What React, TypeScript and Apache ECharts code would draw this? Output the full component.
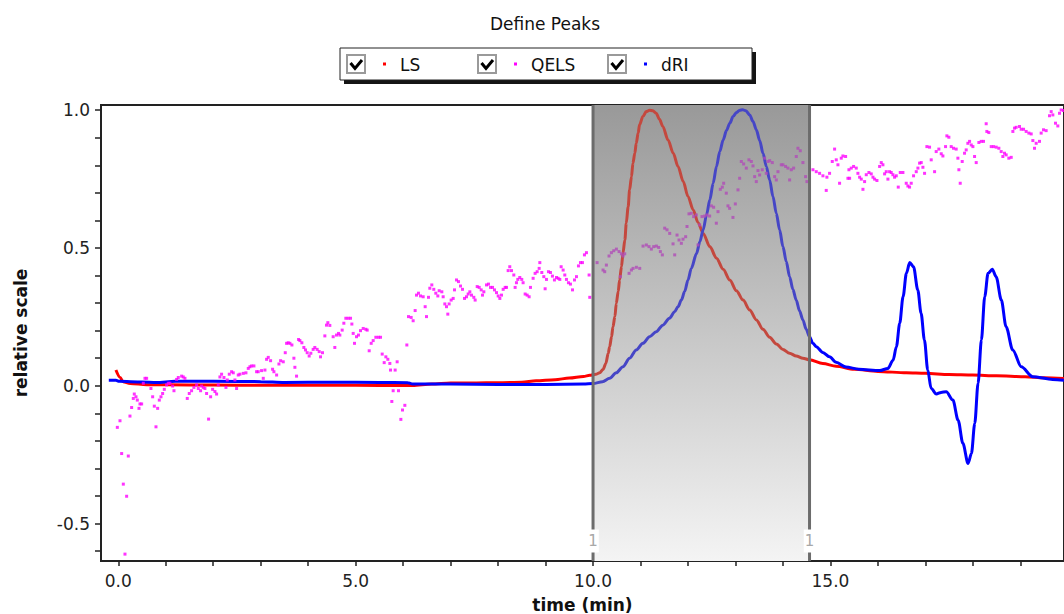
import React, { useEffect, useRef } from "react";
import * as echarts from "echarts";

// ---- data ---------------------------------------------------------------
const X_MIN = -0.364;
const X_MAX = 19.92;
const Y_MIN = -0.636;
const Y_MAX = 1.019;

const xTickValues = [0, 1, 2, 3, 4, 5, 6, 7, 8, 9, 10, 11, 12, 13, 14, 15, 16, 17, 18, 19];
const xLabelValues = [0, 5, 10, 15];
const yTickValues = [-0.6, -0.5, -0.4, -0.3, -0.2, -0.1, 0, 0.1, 0.2, 0.3, 0.4, 0.5, 0.6, 0.7, 0.8, 0.9, 1.0];
const yLabelValues = [-0.5, 0, 0.5, 1.0];

// peak limits (start, end) in minutes, and peak number
const PEAK_START = 10.0;
const PEAK_END = 14.56;
const peakRanges = [[PEAK_START, PEAK_END, 1]];

const lsData = [
  [-0.05, 0.057], [0.04, 0.03], [0.1, 0.015], [0.25, 0.008], [0.6, 0.004], [1.5, 0.003],
  [2.5, 0.002], [3.5, 0.002], [4.5, 0.002], [5.5, 0.001], [6.2, 0.001], [6.6, 0.006],
  [7.0, 0.01], [7.5, 0.01], [8.0, 0.011], [8.5, 0.013], [8.8, 0.018], [9.2, 0.022],
  [9.5, 0.028], [9.8, 0.034], [9.93, 0.038], [10.06, 0.042], [10.14, 0.047], [10.21, 0.059],
  [10.27, 0.081], [10.32, 0.118], [10.35, 0.142], [10.39, 0.178], [10.42, 0.214], [10.46, 0.251],
  [10.49, 0.299], [10.53, 0.342], [10.56, 0.384], [10.6, 0.433], [10.63, 0.481], [10.67, 0.529],
  [10.7, 0.59], [10.74, 0.65], [10.77, 0.711], [10.81, 0.759], [10.84, 0.808], [10.88, 0.844],
  [10.91, 0.88], [10.95, 0.917], [10.98, 0.947], [11.05, 0.977], [11.12, 0.995], [11.19, 1.0],
  [11.26, 0.998], [11.33, 0.989], [11.4, 0.967], [11.47, 0.941], [11.58, 0.892], [11.69, 0.844],
  [11.79, 0.796], [11.9, 0.741], [12.0, 0.687], [12.11, 0.638], [12.21, 0.593], [12.32, 0.553],
  [12.46, 0.505], [12.6, 0.463], [12.74, 0.423], [12.88, 0.384], [13.02, 0.345], [13.16, 0.311],
  [13.3, 0.275], [13.44, 0.239], [13.58, 0.205], [13.72, 0.176], [13.86, 0.152], [14.0, 0.132],
  [14.14, 0.118], [14.28, 0.108], [14.42, 0.1], [14.56, 0.094], [14.84, 0.081], [15.12, 0.071],
  [15.5, 0.06], [16.0, 0.052], [16.6, 0.047], [17.0, 0.045], [17.5, 0.041], [18.0, 0.039],
  [18.5, 0.036], [19.1, 0.033], [19.5, 0.029], [19.92, 0.026],
];

const driData = [
  [-0.2, 0.02], [-0.05, 0.02], [0.02, 0.016], [0.5, 0.014], [0.8, 0.012], [1.2, 0.016],
  [2.0, 0.016], [3.0, 0.015], [3.5, 0.012], [4.5, 0.013], [5.5, 0.012], [6.1, 0.011],
  [6.2, 0.006], [7.0, 0.006], [8.0, 0.005], [9.0, 0.005], [9.8, 0.006], [10.0, 0.008],
  [10.2, 0.015], [10.35, 0.027], [10.49, 0.047], [10.63, 0.069], [10.77, 0.1], [10.91, 0.13],
  [11.05, 0.154], [11.19, 0.178], [11.33, 0.196], [11.47, 0.22], [11.61, 0.245], [11.72, 0.269],
  [11.79, 0.287], [11.86, 0.311], [11.93, 0.342], [12.0, 0.384], [12.07, 0.426], [12.18, 0.48],
  [12.25, 0.523], [12.32, 0.566], [12.39, 0.62], [12.46, 0.675], [12.53, 0.735], [12.6, 0.796],
  [12.67, 0.85], [12.74, 0.892], [12.81, 0.926], [12.88, 0.953], [12.95, 0.977], [13.02, 0.992],
  [13.09, 1.0], [13.15, 1.002], [13.22, 0.998], [13.3, 0.983], [13.37, 0.959], [13.44, 0.929],
  [13.51, 0.89], [13.58, 0.844], [13.65, 0.796], [13.72, 0.747], [13.79, 0.687], [13.86, 0.626],
  [13.93, 0.566], [14.0, 0.505], [14.07, 0.451], [14.14, 0.396], [14.21, 0.35], [14.28, 0.311],
  [14.35, 0.272], [14.42, 0.239], [14.49, 0.205], [14.56, 0.178], [14.63, 0.154], [14.7, 0.142],
  [14.84, 0.121], [14.98, 0.105], [15.12, 0.085], [15.33, 0.068], [15.6, 0.06], [16.04, 0.055],
  [16.21, 0.063], [16.32, 0.093], [16.39, 0.142], [16.46, 0.227], [16.53, 0.323], [16.6, 0.408],
  [16.67, 0.447], [16.75, 0.432], [16.84, 0.348], [16.91, 0.263], [16.98, 0.166], [17.05, 0.057],
  [17.12, -0.009], [17.23, -0.03], [17.33, -0.024], [17.44, -0.022], [17.58, -0.052], [17.69, -0.125],
  [17.79, -0.209], [17.9, -0.282], [17.97, -0.246], [18.04, -0.137], [18.11, 0.009], [18.18, 0.166],
  [18.25, 0.323], [18.32, 0.408], [18.41, 0.423], [18.49, 0.396], [18.6, 0.311], [18.7, 0.214],
  [18.84, 0.13], [19.02, 0.069], [19.26, 0.033], [19.68, 0.023], [19.92, 0.02],
];

const qelsData = [
  [-0.02, -0.151], [0.036, -0.127], [0.071, -0.246], [0.106, -0.357], [0.141, -0.611], [0.176, -0.401],
  [0.211, -0.255], [0.246, -0.11], [0.281, -0.079], [0.316, -0.046], [0.337, -0.03], [0.373, -0.04],
  [0.401, -0.052], [0.436, -0.082], [0.457, -0.066], [0.492, -0.066], [0.527, 0.009], [0.562, 0.027],
  [0.597, 0.027], [0.688, -0.01], [0.724, -0.04], [0.759, -0.074], [0.794, -0.149], [0.829, -0.082],
  [0.864, -0.052], [0.899, -0.04], [0.934, -0.028], [0.969, -0.013], [1.018, 0.003], [1.053, 0.009],
  [1.088, 0.009], [1.145, -0.001], [1.173, -0.018], [1.229, 0.023], [1.264, 0.03], [1.334, 0.035],
  [1.369, 0.032], [1.404, 0.027], [1.453, -0.046], [1.495, -0.028], [1.544, -0.018], [1.593, -0.006],
  [1.65, 0.003], [1.685, -0.01], [1.734, -0.018], [1.755, -0.001], [1.79, -0.006], [1.825, -0.01],
  [1.86, -0.028], [1.902, -0.121], [1.945, -0.04], [1.987, -0.013], [2.036, -0.021], [2.071, -0.03],
  [2.106, 0.003], [2.141, 0.032], [2.176, 0.042], [2.226, 0.03], [2.268, -0.006], [2.296, 0.021],
  [2.338, 0.042], [2.387, 0.051], [2.422, 0.047], [2.457, 0.021], [2.492, -0.01], [2.527, 0.039],
  [2.562, 0.042], [2.633, 0.045], [2.689, 0.047], [2.738, 0.063], [2.773, 0.069], [2.808, 0.072],
  [2.857, 0.072], [2.913, 0.051], [2.948, 0.051], [3.018, 0.055], [3.054, 0.027], [3.089, 0.057],
  [3.124, 0.096], [3.159, 0.103], [3.208, 0.091], [3.25, 0.06], [3.278, 0.051], [3.335, 0.039],
  [3.384, 0.079], [3.419, 0.091], [3.475, 0.087], [3.517, 0.12], [3.545, 0.154], [3.58, 0.156],
  [3.615, 0.154], [3.657, 0.148], [3.699, 0.1], [3.72, 0.067], [3.755, 0.035], [3.797, 0.168],
  [3.825, 0.164], [3.867, 0.156], [3.909, 0.139], [3.944, 0.13], [3.979, 0.12], [4.021, 0.108],
  [4.056, 0.118], [4.105, 0.132], [4.14, 0.139], [4.189, 0.132], [4.232, 0.124], [4.26, 0.105],
  [4.302, 0.12], [4.351, 0.181], [4.386, 0.22], [4.414, 0.229], [4.456, 0.219], [4.526, 0.178],
  [4.561, 0.139], [4.596, 0.184], [4.639, 0.19], [4.667, 0.184], [4.716, 0.202], [4.751, 0.227],
  [4.793, 0.245], [4.843, 0.245], [4.892, 0.245], [4.92, 0.224], [4.948, 0.19], [4.976, 0.154],
  [5.018, 0.178], [5.06, 0.184], [5.102, 0.2], [5.159, 0.208], [5.215, 0.205], [5.243, 0.202],
  [5.285, 0.127], [5.327, 0.154], [5.369, 0.164], [5.425, 0.176], [5.481, 0.176], [5.524, 0.176],
  [5.559, 0.115], [5.601, 0.084], [5.636, 0.105], [5.678, 0.096], [5.72, 0.081], [5.734, 0.057],
  [5.762, -0.057], [5.79, -0.018], [5.832, 0.057], [5.874, 0.087], [5.902, -0.018], [5.952, -0.122],
  [5.987, -0.088], [6.036, -0.071], [6.078, 0.148], [6.113, 0.251], [6.169, 0.248], [6.211, 0.236],
  [6.253, 0.273], [6.281, 0.329], [6.323, 0.336], [6.366, 0.326], [6.422, 0.323], [6.464, 0.287],
  [6.492, 0.251], [6.534, 0.321], [6.562, 0.354], [6.604, 0.366], [6.646, 0.35], [6.688, 0.336],
  [6.731, 0.326], [6.759, 0.345], [6.815, 0.341], [6.843, 0.323], [6.878, 0.297], [6.913, 0.287],
  [6.941, 0.26], [6.969, 0.297], [7.011, 0.311], [7.054, 0.317], [7.082, 0.348], [7.124, 0.384],
  [7.166, 0.378], [7.208, 0.362], [7.25, 0.35], [7.293, 0.317], [7.335, 0.323], [7.37, 0.333],
  [7.405, 0.341], [7.44, 0.329], [7.489, 0.321], [7.517, 0.311], [7.56, 0.36], [7.602, 0.357],
  [7.644, 0.348], [7.672, 0.329], [7.7, 0.341], [7.756, 0.366], [7.798, 0.369], [7.84, 0.357],
  [7.883, 0.357], [7.925, 0.348], [7.967, 0.338], [8.002, 0.326], [8.037, 0.317], [8.072, 0.329],
  [8.107, 0.35], [8.149, 0.357], [8.177, 0.357], [8.212, 0.418], [8.246, 0.432], [8.282, 0.418],
  [8.331, 0.402], [8.359, 0.357], [8.387, 0.374], [8.415, 0.386], [8.457, 0.393], [8.499, 0.386],
  [8.527, 0.374], [8.57, 0.333], [8.612, 0.329], [8.654, 0.323], [8.682, 0.357], [8.738, 0.39],
  [8.78, 0.408], [8.823, 0.414], [8.865, 0.426], [8.879, 0.447], [8.921, 0.411], [8.963, 0.396],
  [8.991, 0.352], [9.019, 0.386], [9.061, 0.414], [9.103, 0.411], [9.145, 0.398], [9.187, 0.384],
  [9.23, 0.393], [9.265, 0.39], [9.3, 0.386], [9.328, 0.432], [9.37, 0.42], [9.405, 0.402],
  [9.44, 0.386], [9.482, 0.374], [9.524, 0.369], [9.567, 0.348], [9.609, 0.384], [9.651, 0.396],
  [9.693, 0.435], [9.735, 0.447], [9.777, 0.447], [9.819, 0.475], [9.861, 0.483], [9.917, 0.402],
  [9.931, 0.321], [10.085, 0.447], [10.211, 0.42], [10.246, 0.414], [10.281, 0.438], [10.337, 0.471],
  [10.386, 0.483], [10.436, 0.49], [10.492, 0.496], [10.548, 0.487], [10.576, 0.396], [10.597, 0.479],
  [10.632, 0.471], [10.667, 0.479], [10.759, 0.408], [10.808, 0.42], [10.843, 0.426], [10.913, 0.43],
  [10.983, 0.426], [11.053, 0.507], [11.123, 0.511], [11.179, 0.505], [11.228, 0.496], [11.278, 0.505],
  [11.334, 0.507], [11.383, 0.502], [11.418, 0.487], [11.46, 0.475], [11.509, 0.572], [11.558, 0.566],
  [11.615, 0.553], [11.685, 0.515], [11.72, 0.475], [11.769, 0.547], [11.811, 0.529], [11.86, 0.517],
  [11.895, 0.532], [11.951, 0.541], [11.979, 0.578], [12.021, 0.624], [12.07, 0.626], [12.119, 0.614],
  [12.175, 0.62], [12.211, 0.511], [12.246, 0.584], [12.295, 0.614], [12.351, 0.616], [12.4, 0.62],
  [12.456, 0.616], [12.491, 0.653], [12.54, 0.648], [12.597, 0.59], [12.632, 0.632], [12.681, 0.713],
  [12.723, 0.721], [12.751, 0.735], [12.807, 0.699], [12.842, 0.653], [12.877, 0.644], [12.947, 0.611],
  [12.997, 0.66], [13.053, 0.711], [13.088, 0.753], [13.123, 0.814], [13.172, 0.805], [13.228, 0.79],
  [13.284, 0.82], [13.334, 0.814], [13.369, 0.798], [13.404, 0.759], [13.439, 0.741], [13.474, 0.781],
  [13.509, 0.765], [13.565, 0.784], [13.614, 0.826], [13.649, 0.771], [13.685, 0.814], [13.72, 0.817],
  [13.776, 0.81], [13.825, 0.759], [13.86, 0.747], [13.895, 0.777], [13.965, 0.802], [14.0, 0.802],
  [14.056, 0.796], [14.105, 0.79], [14.141, 0.747], [14.176, 0.784], [14.225, 0.79], [14.281, 0.832],
  [14.316, 0.862], [14.365, 0.853], [14.421, 0.81], [14.477, 0.759], [14.505, 0.741], [14.632, 0.784],
  [14.702, 0.777], [14.772, 0.771], [14.842, 0.762], [14.912, 0.709], [14.926, 0.757], [14.982, 0.771],
  [15.039, 0.814], [15.088, 0.859], [15.123, 0.82], [15.158, 0.802], [15.193, 0.735], [15.228, 0.826],
  [15.263, 0.834], [15.32, 0.832], [15.369, 0.753], [15.39, 0.784], [15.404, 0.753], [15.439, 0.79],
  [15.488, 0.796], [15.544, 0.79], [15.579, 0.771], [15.615, 0.757], [15.65, 0.75], [15.685, 0.713],
  [15.72, 0.741], [15.755, 0.766], [15.811, 0.774], [15.86, 0.769], [15.896, 0.757], [15.931, 0.75],
  [15.98, 0.745], [16.036, 0.796], [16.071, 0.81], [16.106, 0.802], [16.141, 0.769], [16.176, 0.777],
  [16.211, 0.75], [16.246, 0.777], [16.281, 0.774], [16.316, 0.766], [16.351, 0.757], [16.387, 0.762],
  [16.429, 0.721], [16.471, 0.774], [16.527, 0.774], [16.597, 0.735], [16.632, 0.725], [16.667, 0.721],
  [16.702, 0.735], [16.751, 0.762], [16.808, 0.777], [16.843, 0.79], [16.878, 0.808], [16.913, 0.81],
  [16.948, 0.793], [16.983, 0.771], [17.032, 0.868], [17.088, 0.866], [17.123, 0.82], [17.194, 0.777],
  [17.228, 0.85], [17.284, 0.859], [17.334, 0.842], [17.369, 0.834], [17.425, 0.868], [17.453, 0.907],
  [17.495, 0.902], [17.544, 0.868], [17.593, 0.862], [17.649, 0.859], [17.685, 0.826], [17.706, 0.784],
  [17.734, 0.735], [17.776, 0.814], [17.825, 0.844], [17.86, 0.856], [17.895, 0.88], [17.931, 0.887],
  [17.966, 0.874], [18.001, 0.868], [18.036, 0.832], [18.071, 0.81], [18.127, 0.883], [18.176, 0.887],
  [18.225, 0.887], [18.281, 0.951], [18.295, 0.923], [18.337, 0.919], [18.387, 0.868], [18.436, 0.868],
  [18.492, 0.866], [18.548, 0.862], [18.597, 0.85], [18.632, 0.832], [18.667, 0.844], [18.702, 0.838],
  [18.758, 0.826], [18.808, 0.829], [18.843, 0.923], [18.878, 0.935], [18.913, 0.938], [18.983, 0.941],
  [19.018, 0.931], [19.068, 0.931], [19.123, 0.923], [19.18, 0.917], [19.229, 0.914], [19.264, 0.89],
  [19.299, 0.862], [19.334, 0.88], [19.404, 0.887], [19.439, 0.917], [19.488, 0.929], [19.544, 0.926],
  [19.615, 0.98], [19.65, 0.995], [19.685, 0.983], [19.741, 0.953], [19.79, 0.943], [19.825, 0.989],
  [19.86, 1.001], [19.91, 0.999],
];

const seriesNames = ["LS", "QELS", "dRI"];
const seriesColors = ["#ff0000", "#ff00ff", "#0000ff"];
// the same traces as they show inside the selected peak band
const bandColors = ["#c4483e", "#b04cb8", "#4646c6"];

const FONT = "DejaVu Sans";

// ---- legend panel with check boxes ----------------------------------------
function buildLegend() {
  const boxX = 340;
  const boxY = 48;
  const boxW = 412;
  const boxH = 32;
  const itemX = [347, 478, 608];
  const children: any[] = [
    { type: "rect", shape: { x: boxX + 4, y: boxY + 4, width: boxW, height: boxH }, style: { fill: "#151515" } },
    { type: "rect", shape: { x: boxX, y: boxY, width: boxW, height: boxH }, style: { fill: "#ffffff", stroke: "#222", lineWidth: 1 } },
  ];
  seriesNames.forEach((name, i) => {
    const cx = itemX[i];
    const cy = 55;
    children.push(
      { type: "rect", shape: { x: cx, y: cy, width: 18, height: 18 }, style: { fill: "#ffffff", stroke: "#9a9a9a", lineWidth: 2 } },
      { type: "polyline", shape: { points: [[cx + 3.5, cy + 8], [cx + 8, cy + 13.5], [cx + 15, cy + 5]] }, style: { stroke: "#000", lineWidth: 3, fill: null } },
      { type: "rect", shape: { x: cx + 36, y: cy + 7.5, width: 3, height: 3 }, style: { fill: seriesColors[i] } },
      { type: "text", x: cx + 53, y: cy + 9.5, style: { text: name, fill: "#111", font: `17px "${FONT}"`, verticalAlign: "middle", align: "left" } }
    );
  });
  return { type: "group", children };
}

// colour a trace differently while it runs through the peak band
function bandVisualMap(seriesIndex: number, colorIndex: number) {
  return {
    type: "piecewise",
    show: false,
    seriesIndex,
    dimension: 0,
    pieces: [
      { lt: PEAK_START, color: seriesColors[colorIndex] },
      { gte: PEAK_START, lte: PEAK_END, color: bandColors[colorIndex] },
      { gt: PEAK_END, color: seriesColors[colorIndex] },
    ],
  };
}

export default function App() {
  const ref = useRef<HTMLDivElement>(null);

  useEffect(() => {
    if (!ref.current) return;
    const chart = echarts.init(ref.current, null, { renderer: "svg" });

    const shade = new echarts.graphic.LinearGradient(0, 0, 0, 1, [
      { offset: 0, color: "#999999" },
      { offset: 1, color: "#f4f4f4" },
    ]);

    const option: any = {
      animation: false,
      backgroundColor: "#ffffff",
      title: {
        text: "Define Peaks",
        left: 540,
        top: 10,
        textAlign: "center",
        textStyle: { fontFamily: FONT, fontSize: 17, fontWeight: "normal", color: "#111" },
      },
      grid: {
        left: 101,
        top: 105,
        right: 0,
        bottom: 53,
        outerBoundsMode: "none",
        containLabel: false,
        show: true,
        borderColor: "#222",
        borderWidth: 2,
        backgroundColor: "transparent",
      },
      xAxis: {
        type: "value",
        min: X_MIN,
        max: X_MAX,
        name: "time (min)",
        nameLocation: "middle",
        nameGap: 35,
        nameTextStyle: { fontFamily: FONT, fontSize: 17, fontWeight: "bold", color: "#111" },
        axisLine: { show: true, onZero: false, lineStyle: { color: "#222", width: 2 } },
        axisTick: { show: true, length: 5, customValues: xTickValues, lineStyle: { color: "#222", width: 1.5 } },
        axisLabel: {
          customValues: xLabelValues,
          formatter: (v: number) => v.toFixed(1),
          margin: 11,
          fontFamily: FONT,
          fontSize: 17,
          color: "#222",
        },
        splitLine: { show: false },
      },
      yAxis: {
        type: "value",
        min: Y_MIN,
        max: Y_MAX,
        name: "relative scale",
        nameLocation: "middle",
        nameGap: 72,
        nameTextStyle: { fontFamily: FONT, fontSize: 17, fontWeight: "bold", color: "#111" },
        axisLine: { show: true, onZero: false, lineStyle: { color: "#222", width: 2 } },
        axisTick: { show: true, length: 6, customValues: yTickValues, lineStyle: { color: "#222", width: 1.5 } },
        axisLabel: {
          customValues: yLabelValues,
          formatter: (v: number) => v.toFixed(1),
          margin: 11,
          fontFamily: FONT,
          fontSize: 17,
          color: "#222",
        },
        splitLine: { show: false },
      },
      visualMap: [bandVisualMap(1, 0), bandVisualMap(2, 2), bandVisualMap(3, 1)],
      graphic: [buildLegend()],
      series: [
        {
          name: "peak band",
          type: "custom",
          data: peakRanges,
          encode: { x: [0, 1] },
          z: 1,
          silent: true,
          renderItem: (params: any, api: any) => {
            const cs = params.coordSys;
            const xa = api.coord([api.value(0), 0])[0];
            const xb = api.coord([api.value(1), 0])[0];
            return {
              type: "rect",
              shape: { x: xa, y: cs.y, width: xb - xa, height: cs.height },
              style: { fill: shade },
            };
          },
        },
        {
          name: "LS",
          type: "line",
          data: lsData,
          showSymbol: false,
          smooth: 0.3,
          smoothMonotone: "x",
          lineStyle: { width: 3 },
          z: 2,
        },
        {
          name: "dRI",
          type: "line",
          data: driData,
          showSymbol: false,
          smooth: 0.3,
          smoothMonotone: "x",
          lineStyle: { width: 3 },
          z: 2,
        },
        {
          name: "QELS",
          type: "scatter",
          data: qelsData,
          symbol: "rect",
          symbolSize: 3,
          z: 3,
        },
        {
          name: "peak limits",
          type: "custom",
          data: peakRanges,
          encode: { x: [0, 1] },
          z: 6,
          silent: true,
          renderItem: (params: any, api: any) => {
            const cs = params.coordSys;
            const xa = api.coord([api.value(0), 0])[0];
            const xb = api.coord([api.value(1), 0])[0];
            const top = cs.y;
            const bottom = cs.y + cs.height;
            const labelY = bottom - 20;
            const label = String(api.value(2));
            const edge = (x: number) => [
              { type: "line", shape: { x1: x, y1: top, x2: x, y2: bottom }, style: { stroke: "#6c6c6c", lineWidth: 3 } },
              {
                type: "text",
                x,
                y: labelY,
                style: {
                  text: label,
                  fill: "#a8a8a8",
                  font: `15px "${FONT}"`,
                  align: "center",
                  verticalAlign: "middle",
                  backgroundColor: "#ffffff",
                  padding: [4, 1],
                },
              },
            ];
            return { type: "group", children: [...edge(xa), ...edge(xb)] };
          },
        },
      ],
    };

    chart.setOption(option);
    return () => chart.dispose();
  }, []);

  return <div ref={ref} style={{ position: "absolute", left: 0, top: 0, width: 1064, height: 614 }} />;
}
